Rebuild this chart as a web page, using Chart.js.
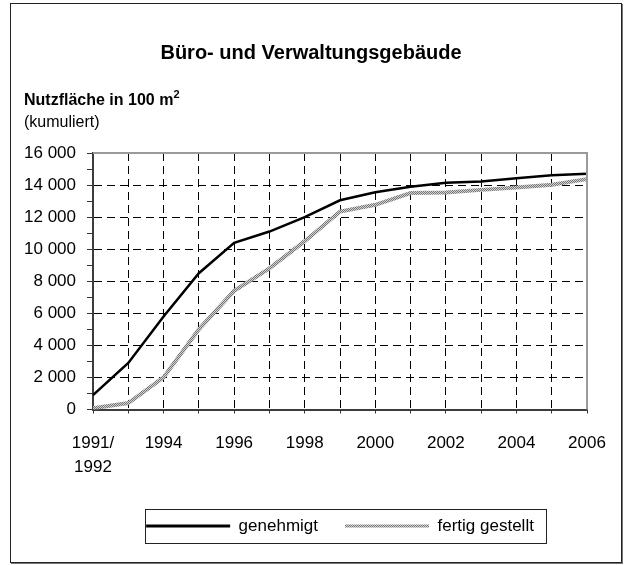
<!DOCTYPE html>
<html>
<head>
<meta charset="utf-8">
<script src="https://cdn.jsdelivr.net/npm/chart.js@4/dist/chart.umd.min.js"></script>
<style>
  html, body { margin: 0; padding: 0; background: #fff; }
  body { width: 627px; height: 565px; position: relative; overflow: hidden; font-family: "Liberation Sans", Arial, sans-serif; }
  #frame { position: absolute; left: 10px; top: 3px; width: 610px; height: 558px; border: 1px solid #222; box-shadow: 1px 1px 0 #777; }
  #wrap { position: absolute; left: 0; top: 0; width: 627px; height: 565px; }
  .cap { position: absolute; left: 24px; font-size: 16px; line-height: 16px; color: #000; white-space: nowrap; }
  #cap1 { top: 92px; font-weight: bold; }
  #cap2 { top: 114px; }
  sup { font-size: 11px; line-height: 0; position: relative; top: -1px; }
</style>
</head>
<body>
<div id="frame"></div>
<div id="wrap"><canvas id="c" width="627" height="565"></canvas></div>
<div class="cap" id="cap1">Nutzfläche in 100 m<sup>2</sup></div>
<div class="cap" id="cap2">(kumuliert)</div>
<script>
// ---- data ----
const categories = ['1991/1992','1993','1994','1995','1996','1997','1998','1999','2000','2001','2002','2003','2004','2005','2006'];
const xTickLabels = [['1991/','1992'],'','1994','','1996','','1998','','2000','','2002','','2004','','2006'];
const yTickLabels = ['0','2 000','4 000','6 000','8 000','10 000','12 000','14 000','16 000'];
const genehmigt = [900, 2900, 5800, 8500, 10400, 11100, 12000, 13050, 13550, 13900, 14150, 14220, 14430, 14610, 14700];
const fertigGestellt = [80, 400, 2000, 5000, 7400, 8800, 10500, 12350, 12770, 13500, 13540, 13700, 13850, 14020, 14370];
const seriesNames = ['genehmigt', 'fertig gestellt'];
const titleText = 'Büro- und Verwaltungsgebäude';

// hatched grey pattern for "fertig gestellt"
const pc = document.createElement('canvas');
pc.width = 2; pc.height = 2;
const pctx = pc.getContext('2d');
pctx.fillStyle = '#d2d2d2'; pctx.fillRect(0, 0, 2, 2);
pctx.fillStyle = '#767676'; pctx.fillRect(0, 0, 1, 1); pctx.fillRect(1, 1, 1, 1);
const greyPattern = document.getElementById('c').getContext('2d').createPattern(pc, 'repeat');

const FONT = 'Liberation Sans, Arial, sans-serif';
Chart.defaults.font.family = FONT;
Chart.defaults.color = '#000';

const framePlugin = {
  id: 'frame',
  beforeDraw(chart) {
    // centre the title over the outer frame rather than the padded layout box
    const t = chart.titleBlock;
    if (t) { t.left = 0; t.right = chart.width - 5; }
  },
  afterDatasetsDraw(chart) {
    const {ctx, chartArea: a} = chart;
    ctx.save();
    ctx.strokeStyle = '#9a9a9a';
    ctx.lineWidth = 2;
    ctx.beginPath();
    ctx.moveTo(a.left, a.top);
    ctx.lineTo(a.right, a.top);
    ctx.lineTo(a.right, a.bottom);
    ctx.stroke();
    ctx.restore();
  },
  afterDraw(chart) {
    const lg = chart.legend;
    if (!lg || !lg.legendHitBoxes || !lg.legendHitBoxes.length) return;
    const hb = lg.legendHitBoxes;
    const first = hb[0], last = hb[hb.length - 1];
    const ctx = chart.ctx;
    const l = first.left - 1;
    const r = last.left + last.width + 12;
    const cy = first.top + first.height / 2;
    ctx.save();
    ctx.strokeStyle = '#222';
    ctx.lineWidth = 1;
    ctx.strokeRect(Math.round(l) + 0.5, Math.round(cy - 17) + 0.5, Math.round(r - l), 34);
    ctx.restore();
  }
};

new Chart(document.getElementById('c'), {
  type: 'line',
  data: {
    labels: categories,
    datasets: [
      { label: seriesNames[0], data: genehmigt, borderColor: '#000', backgroundColor: '#000', borderWidth: 2.5, pointRadius: 0, tension: 0, fill: false },
      { label: seriesNames[1], data: fertigGestellt, borderColor: greyPattern, backgroundColor: greyPattern, borderWidth: 4, pointRadius: 0, tension: 0, fill: false }
    ]
  },
  options: {
    responsive: false,
    animation: false,
    devicePixelRatio: 1,
    layout: { padding: { left: 0, right: 40, top: 0, bottom: 20.5 } },
    plugins: {
      title: {
        display: true,
        text: titleText,
        font: { size: 20, weight: 'bold', family: FONT, lineHeight: 1.2 },
        color: '#000',
        padding: { top: 41, bottom: 88 }
      },
      legend: {
        display: true,
        position: 'bottom',
        fullSize: false,
        labels: {
          boxWidth: 84,
          boxHeight: 3,
          padding: 27,
          font: { size: 17, family: FONT },
          color: '#000',
          generateLabels(chart) {
            return chart.data.datasets.map((ds, i) => ({
              text: ds.label,
              fillStyle: ds.borderColor,
              strokeStyle: ds.borderColor,
              lineWidth: 0,
              hidden: false,
              datasetIndex: i
            }));
          }
        }
      },
      tooltip: { enabled: false }
    },
    scales: {
      x: {
        type: 'category',
        offset: false,
        afterFit(scale) { scale.height = 81; },
        grid: { color: '#000', lineWidth: 1, tickLength: 4, tickColor: '#333', drawTicks: true },
        border: { display: true, color: '#3c3c3c', width: 2, dash: [8, 5] },
        ticks: {
          autoSkip: false,
          maxRotation: 0,
          minRotation: 0,
          padding: 18,
          font: { size: 17, family: FONT, lineHeight: 1.41 },
          color: '#000',
          callback: (v, i) => xTickLabels[i]
        }
      },
      y: {
        min: 0,
        max: 16000,
        afterFit(scale) { scale.width = 93; },
        grid: {
          color: (c) => (c.tick && c.tick.value % 2000 === 0) ? '#000' : 'rgba(0,0,0,0)',
          lineWidth: 1,
          tickLength: 6,
          tickColor: '#333'
        },
        border: { display: true, color: '#3c3c3c', width: 2, dash: [8, 5] },
        ticks: {
          stepSize: 1000,
          autoSkip: false,
          padding: 11,
          font: { size: 17, family: FONT },
          color: '#000',
          callback: (v) => (v % 2000 === 0) ? yTickLabels[v / 2000] : ''
        }
      }
    }
  },
  plugins: [framePlugin]
});
</script>
</body>
</html>
